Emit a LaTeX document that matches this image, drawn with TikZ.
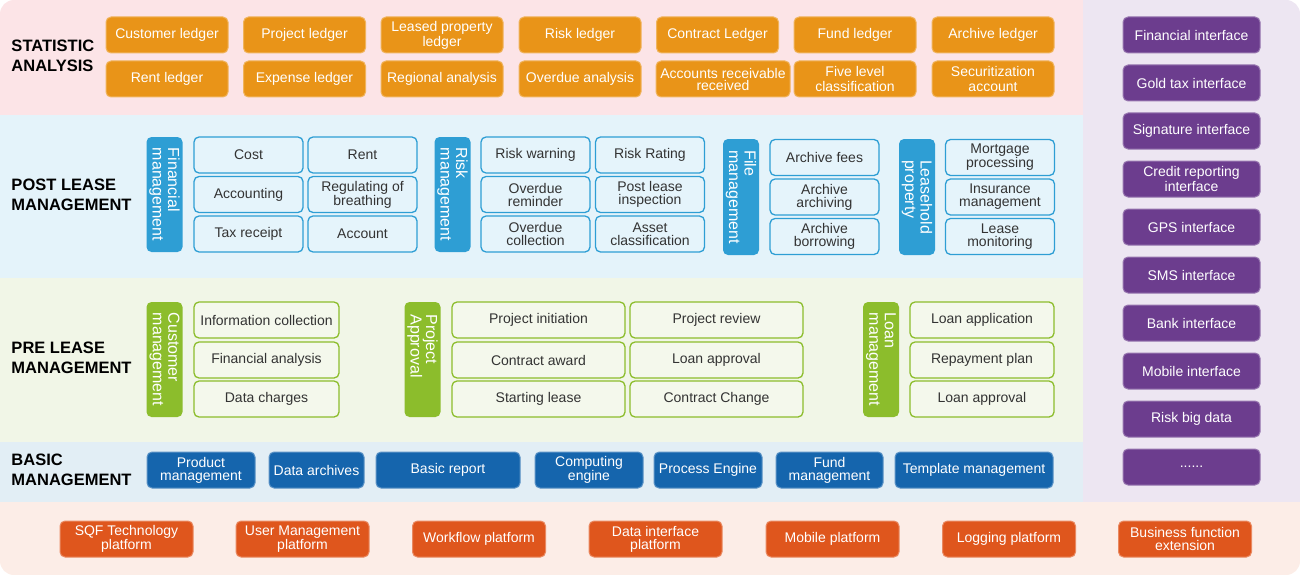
\documentclass[tikz,border=0pt]{standalone}
\usepackage{fontspec}
\setmainfont{Liberation Sans}
\usepackage{xcolor}
\definecolor{statbg}{HTML}{FCE4E7}
\definecolor{postbg}{HTML}{E4F3FA}
\definecolor{prebg}{HTML}{F1F6E7}
\definecolor{basicbg}{HTML}{E2EEF5}
\definecolor{ifacebg}{HTML}{EDE6F2}
\definecolor{platbg}{HTML}{FCEDE7}
\definecolor{statorange}{HTML}{E99418}
\definecolor{postline}{HTML}{2E9ED4}
\definecolor{postfill}{HTML}{E5F4FB}
\definecolor{preline}{HTML}{8CBD2C}
\definecolor{prefill}{HTML}{F4F8EC}
\definecolor{basicblue}{HTML}{1565AD}
\definecolor{ifacepurple}{HTML}{6C3D8E}
\definecolor{platred}{HTML}{DF561D}
\definecolor{txtgray}{HTML}{333333}

\begin{document}
\begin{tikzpicture}
		[x=1pt,y=-1pt,
		every node/.style={font=\fontsize{14}{13}\selectfont,align=center,inner sep=1pt,rounded corners=5pt,line width=1pt},
		statbox/.style={fill=statorange,draw=statorange!70!white,text=white,minimum width=122,minimum height=36,font=\fontsize{14}{15}\selectfont},
		postbox/.style={fill=postfill,draw=postline,line width=1.3pt,text=txtgray,minimum width=109,minimum height=36},
		postbar/.style={fill=postline,text=white,rotate=-90,minimum width=115,minimum height=36,align=left,font=\fontsize{16}{15.5}\selectfont},
		prebox/.style={fill=prefill,draw=preline,line width=1.3pt,text=txtgray,minimum height=36},
		prebar/.style={fill=preline,text=white,rotate=-90,minimum width=115,minimum height=36,align=left,font=\fontsize{16}{15.5}\selectfont},
		basicbox/.style={fill=basicblue,draw=basicblue!70!white,text=white,minimum height=36},
		platbox/.style={fill=platred,draw=platred!70!white,text=white,minimum width=133,minimum height=36},
		ifacebox/.style={fill=ifacepurple,draw=ifacepurple!70!white,text=white,minimum width=137,minimum height=36},
		layer/.style={font=\bfseries\fontsize{16.5}{20}\selectfont,anchor=west,align=left,inner sep=0pt}]
		\useasboundingbox (0,0) rectangle (1300,575);
		% bands
		\begin{scope}
			\clip[rounded corners=14pt] (0,0) rectangle (1300,575);
			\fill[statbg] (0,0) rectangle (1083,115);
			\fill[postbg] (0,115) rectangle (1083,278);
			\fill[prebg] (0,278) rectangle (1083,442);
			\fill[basicbg] (0,442) rectangle (1083,502);
			\fill[ifacebg] (1083,0) rectangle (1300,502);
			\fill[platbg] (0,502) rectangle (1300,575);
		\end{scope}
		% layer names
		\node[layer] (lstat) at (11,56) {STATISTIC\\ANALYSIS};
		\node[layer] (lpost) at (11,195) {POST LEASE\\MANAGEMENT};
		\node[layer] (lpre) at (11,358) {PRE LEASE\\MANAGEMENT};
		\node[layer] (lbasic) at (11,470) {BASIC\\MANAGEMENT};
		% statistic analysis
		\node[statbox] (s1) at (167,35) {Customer ledger};
		\node[statbox] (s2) at (304.5,35) {Project ledger};
		\node[statbox] (s3) at (442,35) {Leased property\\ledger};
		\node[statbox] (s4) at (580,35) {Risk ledger};
		\node[statbox] (s5) at (717.5,35) {Contract Ledger};
		\node[statbox] (s6) at (855,35) {Fund ledger};
		\node[statbox] (s7) at (993,35) {Archive ledger};
		\node[statbox] (s8) at (167,79) {Rent ledger};
		\node[statbox] (s9) at (304.5,79) {Expense ledger};
		\node[statbox] (s10) at (442,79) {Regional analysis};
		\node[statbox] (s11) at (580,79) {Overdue analysis};
		\node[statbox,minimum width=134,font=\fontsize{14}{12}\selectfont] (s12) at (723,79) {Accounts receivable\\received};
		\node[statbox] (s13) at (855,79) {Five level\\classification};
		\node[statbox] (s14) at (993,79) {Securitization\\account};
		% post lease management
		\node[postbar] (fin) at (164.5,194.5) {Financial\\management};
		\node[postbox] (f1) at (248.5,155) {Cost};
		\node[postbox] (f2) at (362.5,155) {Rent};
		\node[postbox] (f3) at (248.5,194.5) {Accounting};
		\node[postbox] (f4) at (362.5,194.5) {Regulating of\\breathing};
		\node[postbox] (f5) at (248.5,234) {Tax receipt};
		\node[postbox] (f6) at (362.5,234) {Account};
		\node[postbar] (risk) at (452.5,194.5) {Risk\\management};
		\node[postbox] (r1) at (535.5,155) {Risk warning};
		\node[postbox] (r2) at (650,155) {Risk Rating};
		\node[postbox] (r3) at (535.5,194.5) {Overdue\\reminder};
		\node[postbox] (r4) at (650,194.5) {Post lease\\inspection};
		\node[postbox] (r5) at (535.5,234) {Overdue\\collection};
		\node[postbox] (r6) at (650,234) {Asset\\classification};
		\node[postbar,minimum width=116] (file) at (741,197) {File\\management};
		\node[postbox] (a1) at (824.5,157.5) {Archive fees};
		\node[postbox] (a2) at (824.5,197) {Archive\\archiving};
		\node[postbox] (a3) at (824.5,236.5) {Archive\\borrowing};
		\node[postbar,minimum width=116] (lease) at (917,197) {Leasehold\\property};
		\node[postbox] (m1) at (1000,157.5) {Mortgage\\processing};
		\node[postbox] (m2) at (1000,197) {Insurance\\management};
		\node[postbox] (m3) at (1000,236.5) {Lease\\monitoring};
		% pre lease management
		\node[prebar] (cust) at (164.5,359.5) {Customer\\management};
		\node[prebox,minimum width=145] (c1) at (266.5,320) {Information collection};
		\node[prebox,minimum width=145] (c2) at (266.5,360) {Financial analysis};
		\node[prebox,minimum width=145] (c3) at (266.5,399) {Data charges};
		\node[prebar,text width=90] (proj) at (422.5,359.5) {Project\\Approval};
		\node[prebox,minimum width=173] (p1) at (538.5,320) {Project initiation};
		\node[prebox,minimum width=173] (p2) at (716.5,320) {Project review};
		\node[prebox,minimum width=173] (p3) at (538.5,360) {Contract award};
		\node[prebox,minimum width=173] (p4) at (716.5,360) {Loan approval};
		\node[prebox,minimum width=173] (p5) at (538.5,399) {Starting lease};
		\node[prebox,minimum width=173] (p6) at (716.5,399) {Contract Change};
		\node[prebar] (loan) at (881,359.5) {Loan\\management};
		\node[prebox,minimum width=144] (n1) at (982,320) {Loan application};
		\node[prebox,minimum width=144] (n2) at (982,360) {Repayment plan};
		\node[prebox,minimum width=144] (n3) at (982,399) {Loan approval};
		% basic management
		\node[basicbox,minimum width=108] (b1) at (201,470) {Product\\management};
		\node[basicbox,minimum width=95] (b2) at (316.5,470) {Data archives};
		\node[basicbox,minimum width=144] (b3) at (448,470) {Basic report};
		\node[basicbox,minimum width=108] (b4) at (589,470) {Computing\\engine};
		\node[basicbox,minimum width=108] (b5) at (708,470) {Process Engine};
		\node[basicbox,minimum width=107] (b6) at (829.5,470) {Fund\\management};
		\node[basicbox,minimum width=158] (b7) at (974,470) {Template management};
		% platforms
		\node[platbox] (g1) at (126.5,539) {SQF Technology\\platform};
		\node[platbox] (g2) at (302.5,539) {User Management\\platform};
		\node[platbox] (g3) at (479,539) {Workflow platform};
		\node[platbox] (g4) at (655.5,539) {Data interface\\platform};
		\node[platbox] (g5) at (832.5,539) {Mobile platform};
		\node[platbox] (g6) at (1009,539) {Logging platform};
		\node[platbox] (g7) at (1185,539) {Business function\\extension};
		% interfaces
		\node[ifacebox] (i1) at (1191.5,35) {Financial interface};
		\node[ifacebox] (i2) at (1191.5,83) {Gold tax interface};
		\node[ifacebox] (i3) at (1191.5,131) {Signature interface};
		\node[ifacebox] (i4) at (1191.5,179) {Credit reporting\\interface};
		\node[ifacebox] (i5) at (1191.5,227) {GPS interface};
		\node[ifacebox] (i6) at (1191.5,275) {SMS interface};
		\node[ifacebox] (i7) at (1191.5,323) {Bank interface};
		\node[ifacebox] (i8) at (1191.5,371) {Mobile interface};
		\node[ifacebox] (i9) at (1191.5,419) {Risk big data};
		\node[ifacebox] (i10) at (1191.5,467) {......};
\end{tikzpicture}
\end{document}
